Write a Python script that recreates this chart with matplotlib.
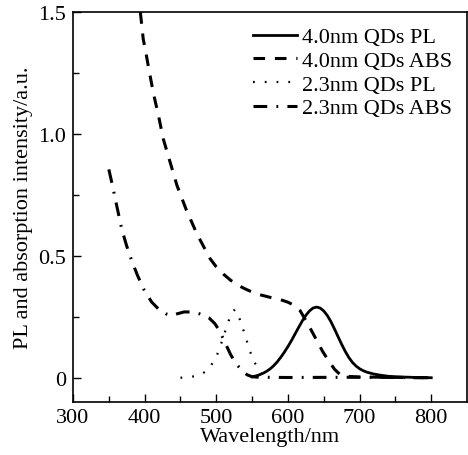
import matplotlib
matplotlib.use('Agg')
import matplotlib.pyplot as plt
import numpy as np

plt.rcParams['font.family'] = ['Liberation Serif', 'DejaVu Serif']

# 4.0nm QDs PL
pl40_x = [550, 555, 560, 565, 570, 575, 580, 585, 590, 595, 600, 605, 610, 615,
          620, 625, 630, 635, 640, 645, 650, 655, 660, 665, 670, 675, 680, 685,
          690, 695, 700, 705, 710, 720, 730, 740, 750, 760, 780, 800]
pl40_y = [0.004, 0.007, 0.012, 0.018, 0.026, 0.036, 0.049, 0.065, 0.084, 0.105,
          0.128, 0.153, 0.180, 0.207, 0.233, 0.256, 0.274, 0.286, 0.290, 0.286,
          0.274, 0.255, 0.230, 0.200, 0.168, 0.137, 0.108, 0.083, 0.063, 0.048,
          0.037, 0.029, 0.023, 0.015, 0.010, 0.006, 0.004, 0.003, 0.001, 0.0]

# 4.0nm QDs ABS
abs40_x = [394, 398, 402, 405, 412, 419, 426, 435, 445, 458, 473, 482, 491, 500,
           510, 520, 530, 540, 555, 575, 590, 600, 608, 617, 628, 638, 648, 657,
           665, 672, 680, 700, 800]
abs40_y = [1.50, 1.39, 1.33, 1.28, 1.17, 1.08, 0.98, 0.89, 0.79, 0.69, 0.59, 0.54,
           0.49, 0.455, 0.425, 0.40, 0.38, 0.365, 0.345, 0.33, 0.32, 0.31, 0.298,
           0.275, 0.22, 0.165, 0.11, 0.068, 0.035, 0.015, 0.006, 0.003, 0.0]

# 2.3nm QDs PL
pl23_x = [450, 460, 470, 480, 490, 500, 508, 515, 521, 526, 530, 535, 541, 547,
          552, 557, 562, 568, 575]
pl23_y = [0.0, 0.002, 0.006, 0.015, 0.038, 0.085, 0.150, 0.215, 0.265, 0.280,
          0.262, 0.222, 0.166, 0.109, 0.070, 0.045, 0.020, 0.005, 0.0]

# 2.3nm QDs ABS
abs23_x = [350, 355, 360, 368, 375, 382, 390, 400, 410, 420, 430, 438, 445, 455,
           465, 477, 490, 498, 505, 512, 520, 527, 535, 543, 550, 560, 600, 700, 800]
abs23_y = [0.855, 0.79, 0.72, 0.61, 0.54, 0.48, 0.42, 0.355, 0.31, 0.28, 0.262,
           0.255, 0.262, 0.27, 0.27, 0.262, 0.245, 0.222, 0.19, 0.145, 0.095,
           0.06, 0.032, 0.012, 0.004, 0.002, 0.001, 0.002, 0.0]

fs = 16

fig = plt.figure(figsize=(4.68, 4.56), dpi=100)
ax = fig.add_axes([0.156, 0.116, 0.842, 0.855])

ax.plot(pl40_x, pl40_y, color='black', lw=2.0, ls='-', label='4.0nm QDs PL')
ax.plot(abs40_x, abs40_y, color='black', lw=2.2, ls=(0, (3.8, 3.2)),
        label='4.0nm QDs ABS')
ax.plot(pl23_x, pl23_y, color='black', lw=1.6, ls=(0, (0.8, 4.5)),
        label='2.3nm QDs PL')
ax.plot(abs23_x, abs23_y, color='black', lw=2.2, ls=(0, (4.5, 3, 0.6, 3)),
        label='2.3nm QDs ABS')

ax.set_xlim(300, 850)
ax.set_ylim(-0.1, 1.5)
ax.set_xticks([300, 400, 500, 600, 700, 800])
ax.set_xticks([350, 450, 550, 650, 750], minor=True)
ax.set_yticks([0, 0.5, 1.0, 1.5])
ax.set_yticklabels(['0', '0.5', '1.0', '1.5'])
ax.set_yticks([0.25, 0.75, 1.25], minor=True)
ax.tick_params(which='both', direction='in', labelsize=fs, width=1.0)
ax.tick_params(which='major', length=6)
ax.tick_params(which='minor', length=4)
ax.tick_params(axis='x', pad=4)
ax.tick_params(axis='y', pad=5)
for s in ax.spines.values():
    s.set_linewidth(1.2)

ax.set_xlabel('Wavelength/nm', fontsize=fs, labelpad=0)
ax.set_ylabel('PL and absorption intensity/a.u.', fontsize=fs, labelpad=4)

ax.legend(loc='upper right', frameon=False, fontsize=fs, handlelength=2.0,
          handletextpad=0.2, labelspacing=0.14, borderaxespad=0.2,
          bbox_to_anchor=(0.995, 0.997))

fig.savefig('out.png', dpi=100)
